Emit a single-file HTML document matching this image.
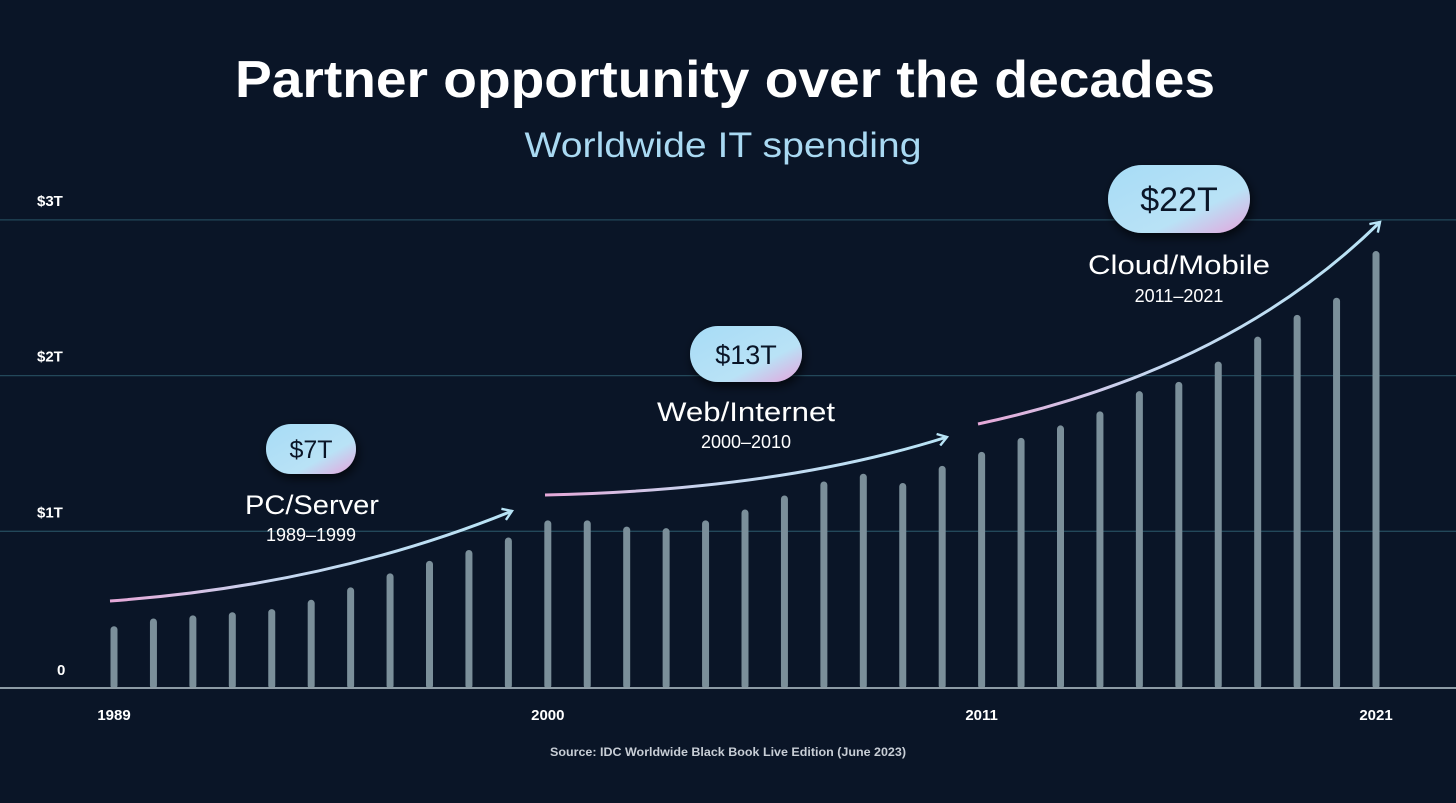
<!DOCTYPE html>
<html><head><meta charset="utf-8"><style>
html,body{margin:0;padding:0;background:#0a1527;}
svg{display:block;font-family:"Liberation Sans",sans-serif;}
</style></head><body>
<svg width="1456" height="803" viewBox="0 0 1456 803">
<defs>
<linearGradient id="arr" x1="0" x2="1" y1="0" y2="0"><stop offset="0" stop-color="#e6a8d8"/><stop offset="0.4" stop-color="#c6d6ef"/><stop offset="1" stop-color="#b8e4f6"/></linearGradient>
<linearGradient id="pill" x1="0" y1="0" x2="1" y2="1"><stop offset="0" stop-color="#a7dcf6"/><stop offset="0.65" stop-color="#b9e2f6"/><stop offset="1" stop-color="#e6a4dc"/></linearGradient>
<marker id="head" markerWidth="14" markerHeight="14" refX="11" refY="7" orient="auto" markerUnits="userSpaceOnUse"><path d="M2,1 L11,7 L2,13" fill="none" stroke="#b8e4f6" stroke-width="2.4"/></marker>
<filter id="sh" x="-30%" y="-30%" width="160%" height="180%"><feDropShadow dx="2" dy="4" stdDeviation="5" flood-color="#000" flood-opacity="0.7"/></filter>
</defs>
<rect width="1456" height="803" fill="#0a1527"/>
<text x="725" y="97" text-anchor="middle" fill="#ffffff" font-size="52" font-weight="bold" textLength="980" lengthAdjust="spacingAndGlyphs">Partner opportunity over the decades</text>
<text x="723" y="157" text-anchor="middle" fill="#a9d9f2" font-size="35" textLength="397" lengthAdjust="spacingAndGlyphs">Worldwide IT spending</text>
<g id="grid"></g>
<g id="bars"></g>
<g id="xlabels"></g>
<g id="ann">
<path d="M110,601 Q330,585 512,511" fill="none" stroke="url(#arr)" stroke-width="3" marker-end="url(#head)"/>
<path d="M545,495 Q780,490 947,437" fill="none" stroke="url(#arr)" stroke-width="3" marker-end="url(#head)"/>
<path d="M978,424 Q1230,370 1380,222" fill="none" stroke="url(#arr)" stroke-width="3" marker-end="url(#head)"/>
<g><rect x="266" y="424" width="90" height="50" rx="25" fill="url(#pill)" filter="url(#sh)"/><text x="311" y="458" text-anchor="middle" font-size="25" fill="#0a1527">$7T</text></g>
<g><rect x="690" y="326" width="112" height="56" rx="28" fill="url(#pill)" filter="url(#sh)"/><text x="746" y="364" text-anchor="middle" font-size="27" fill="#0a1527">$13T</text></g>
<g><rect x="1108" y="165" width="142" height="68" rx="34" fill="url(#pill)" filter="url(#sh)"/><text x="1179" y="211" text-anchor="middle" font-size="34" fill="#0a1527">$22T</text></g>
<text x="312" y="514" text-anchor="middle" fill="#fff" font-size="27" textLength="134" lengthAdjust="spacingAndGlyphs">PC/Server</text>
<text x="311" y="541" text-anchor="middle" fill="#fff" font-size="18">1989–1999</text>
<text x="746" y="421" text-anchor="middle" fill="#fff" font-size="27" textLength="178" lengthAdjust="spacingAndGlyphs">Web/Internet</text>
<text x="746" y="448" text-anchor="middle" fill="#fff" font-size="18">2000–2010</text>
<text x="1179" y="274" text-anchor="middle" fill="#fff" font-size="27" textLength="182" lengthAdjust="spacingAndGlyphs">Cloud/Mobile</text>
<text x="1179" y="302" text-anchor="middle" fill="#fff" font-size="18">2011–2021</text>
</g>
<text x="728" y="756" text-anchor="middle" fill="#c8ced6" font-size="12" font-weight="bold" textLength="356" lengthAdjust="spacingAndGlyphs">Source: IDC Worldwide Black Book Live Edition (June 2023)</text>
</svg>
<script>
const years = [1989,1990,1991,1992,1993,1994,1995,1996,1997,1998,1999,2000,2001,2002,2003,2004,2005,2006,2007,2008,2009,2010,2011,2012,2013,2014,2015,2016,2017,2018,2019,2020,2021];
const spending = [0.39,0.44,0.46,0.48,0.50,0.56,0.64,0.73,0.81,0.88,0.96,1.07,1.07,1.03,1.02,1.07,1.14,1.23,1.32,1.37,1.31,1.42,1.51,1.60,1.68,1.77,1.90,1.96,2.09,2.25,2.39,2.50,2.80];
const yTicks = [0,1,2,3];
const yTickLabels = ["0","$1T","$2T","$3T"];
const xLabelYears = [1989,2000,2011,2021];

const NS="http://www.w3.org/2000/svg";
const y0=687, pxPerT=155.7, x0=114, x1=1376;
function yScale(v){return y0 - v*pxPerT;}
function xScale(yr){return x0 + (yr-years[0])*(x1-x0)/(years[years.length-1]-years[0]);}
function mk(tag,attrs,parent){const e=document.createElementNS(NS,tag);for(const k in attrs)e.setAttribute(k,attrs[k]);parent.appendChild(e);return e;}

const grid=document.getElementById('grid');
yTicks.forEach((t,i)=>{
  const y=yScale(t);
  if(t>0){
    const l=mk('line',{x1:0,x2:1456,y1:y,y2:y,stroke:'#23485a','stroke-width':1.3},grid);
    
    
  }
  const tx=mk('text',{x:t===0?57:37,y:t===0?y-12:y-14,fill:'#fff','font-size':15,'font-weight':'bold'},grid);
  tx.textContent=yTickLabels[i];
  
  
});
const bars=document.getElementById('bars');
years.forEach((yr,i)=>{
  const x=xScale(yr), top=yScale(spending[i]);
  const r=mk('rect',{x:x-3.5,y:top,width:7,height:y0-top+2,rx:3.5,fill:'#7b8f9a'},bars);
  
  
});
const base=mk('line',{x1:0,x2:1456,y1:y0+1,y2:y0+1,stroke:'#8d9ba5','stroke-width':2},bars);


const xl=document.getElementById('xlabels');
xLabelYears.forEach(yr=>{
  const t=mk('text',{x:xScale(yr),y:720,'text-anchor':'middle',fill:'#fff','font-size':15,'font-weight':'bold'},xl);
  t.textContent=yr;
  
  
});
</script>
</body></html>
